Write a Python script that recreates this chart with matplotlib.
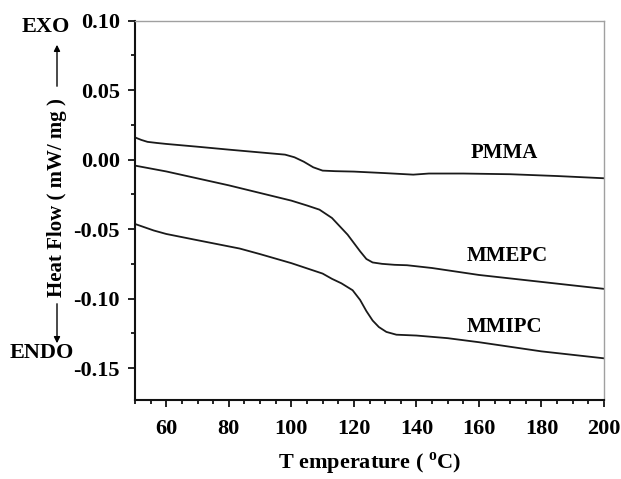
import matplotlib
matplotlib.use("Agg")
import matplotlib.pyplot as plt
from matplotlib.ticker import MultipleLocator, FormatStrFormatter

plt.rcParams['font.family'] = ['Liberation Serif', 'DejaVu Serif']
plt.rcParams['font.weight'] = 'bold'
plt.rcParams['mathtext.fontset'] = 'custom'
plt.rcParams['mathtext.rm'] = 'Liberation Serif:bold'

# DSC traces (temperature in °C, heat flow in mW/mg)
pmma_t = [50, 52, 54, 57, 60, 70, 80, 90, 98, 101, 104, 107, 110, 114, 120, 130,
          139, 144, 155, 170, 185, 200]
pmma_hf = [0.016, 0.0142, 0.0128, 0.0120, 0.0113, 0.0093, 0.0072, 0.0052, 0.0036,
           0.0017, -0.0015, -0.0055, -0.0079, -0.0083, -0.0086, -0.0097,
           -0.0108, -0.0100, -0.0100, -0.0105, -0.0118, -0.0134]

mmepc_t = [50, 60, 70, 80, 90, 100, 105, 109, 113, 115.5, 118, 120, 122, 124,
           126, 129, 133, 137, 145, 160, 180, 200]
mmepc_hf = [-0.0043, -0.0085, -0.0135, -0.0185, -0.0240, -0.0295, -0.0330,
            -0.0360, -0.0420, -0.0480, -0.0540, -0.0600, -0.0660, -0.0715,
            -0.0740, -0.0750, -0.0757, -0.0760, -0.0780, -0.0830, -0.0880,
            -0.0930]

mmipc_t = [50, 56, 60, 70, 83.5, 90, 100, 110, 113, 116, 119.6, 122, 124, 126,
           128, 130.4, 133.6, 140, 150, 160, 180, 200]
mmipc_hf = [-0.0463, -0.0510, -0.0535, -0.0580, -0.0640, -0.0680, -0.0745,
            -0.0820, -0.0858, -0.0890, -0.0940, -0.1010, -0.1090, -0.1158,
            -0.1205, -0.1240, -0.1260, -0.1266, -0.1285, -0.1314, -0.1380,
            -0.1430]

series = [("PMMA", pmma_t, pmma_hf, (168, 0.005)),
          ("MMEPC", mmepc_t, mmepc_hf, (169, -0.069)),
          ("MMIPC", mmipc_t, mmipc_hf, (168, -0.1207))]

fig = plt.figure(figsize=(6.21, 4.79), dpi=100)
ax = fig.add_axes([135 / 621, 1 - 400 / 479, (604 - 135) / 621, (400 - 20.7) / 479])

for name, t, hf, (lx, ly) in series:
    ax.plot(t, hf, color='#1a1a1a', lw=1.3)
    ax.text(lx, ly, name, fontsize=15, fontweight='bold', ha='center', va='center')

ax.set_xlim(50, 200)
ax.set_ylim(-0.173, 0.10)
ax.xaxis.set_major_locator(MultipleLocator(20))
ax.xaxis.set_minor_locator(MultipleLocator(5))
ax.yaxis.set_major_locator(MultipleLocator(0.05))
ax.yaxis.set_minor_locator(MultipleLocator(0.025))
ax.yaxis.set_major_formatter(FormatStrFormatter('%.2f'))

ax.tick_params(which='both', direction='out', top=False, right=False,
               labelsize=16, width=1.2)
ax.tick_params(which='major', length=5)
ax.tick_params(which='minor', length=3)
ax.tick_params(axis='x', which='major', pad=9)
ax.tick_params(axis='y', which='major', pad=6)
for lbl in ax.get_xticklabels() + ax.get_yticklabels():
    lbl.set_fontweight('bold')

for side in ('left', 'bottom'):
    ax.spines[side].set_linewidth(1.5)
    ax.spines[side].set_color('#111111')
for side in ('top', 'right'):
    ax.spines[side].set_linewidth(1.0)
    ax.spines[side].set_color('#a0a0a0')

ax.set_xlabel(r'T emperature ( $^{\mathrm{o}}$C)', fontsize=16, fontweight='bold', labelpad=8)

# y-axis label with EXO / ENDO direction arrows
fig.text(57 / 621, 1 - 198 / 479, 'Heat Flow ( mW/ mg )', rotation=90,
         fontsize=15, fontweight='bold', ha='center', va='center')
fig.text(46 / 621, 1 - 27 / 479, 'EXO', fontsize=16, fontweight='bold',
         ha='center', va='center')
fig.text(42 / 621, 1 - 353 / 479, 'ENDO', fontsize=16, fontweight='bold',
         ha='center', va='center')
arrow = dict(arrowstyle='-|>', color='black', lw=1.0, mutation_scale=9)
fig.add_artist(matplotlib.patches.FancyArrowPatch(
    (57 / 621, 1 - 89 / 479), (57 / 621, 1 - 42 / 479),
    transform=fig.transFigure, **arrow))
fig.add_artist(matplotlib.patches.FancyArrowPatch(
    (57 / 621, 1 - 301 / 479), (57 / 621, 1 - 346 / 479),
    transform=fig.transFigure, **arrow))

fig.savefig('out.png', dpi=100)
